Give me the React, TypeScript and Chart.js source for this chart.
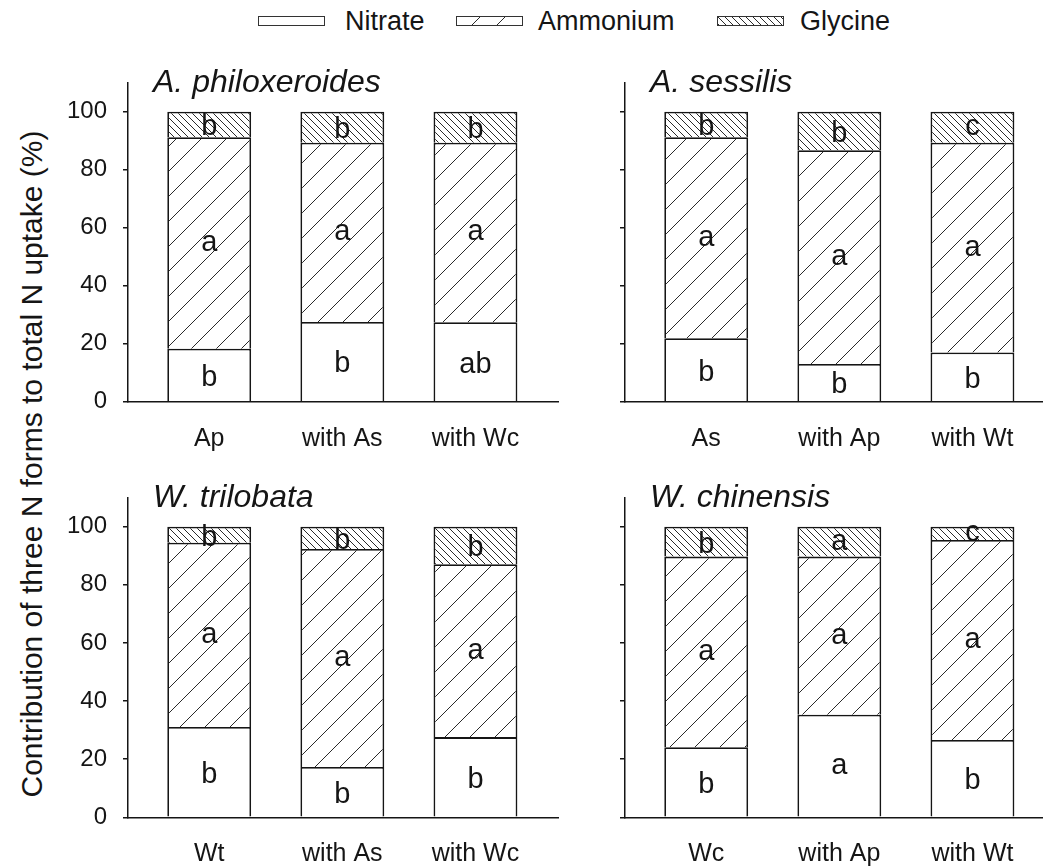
import React, { useEffect, useRef } from 'react';
import { Chart, registerables } from 'chart.js';

Chart.register(...registerables);

const FONT = '"Liberation Sans", Arial, Helvetica, sans-serif';
Chart.defaults.font.family = FONT;

// ---------- data ----------
const seriesNames = ['Nitrate', 'Ammonium', 'Glycine'];
const yTickValues = [0, 20, 40, 60, 80, 100];
const yAxisMax = 110;

const apTitle = 'A. philoxeroides';
const apCategories = ['Ap', 'with As', 'with Wc'];
const apNitrate = [18.3, 27.5, 27.4];
const apAmmonium = [72.9, 61.8, 61.9];
const apGlycine = [8.8, 10.7, 10.7];
const apNitrateLetters = ['b', 'b', 'ab'];
const apAmmoniumLetters = ['a', 'a', 'a'];
const apGlycineLetters = ['b', 'b', 'b'];

const asTitle = 'A. sessilis';
const asCategories = ['As', 'with Ap', 'with Wt'];
const asNitrate = [21.9, 13.0, 17.0];
const asAmmonium = [69.3, 73.7, 72.3];
const asGlycine = [8.8, 13.3, 10.7];
const asNitrateLetters = ['b', 'b', 'b'];
const asAmmoniumLetters = ['a', 'a', 'a'];
const asGlycineLetters = ['b', 'b', 'c'];

const wtTitle = 'W. trilobata';
const wtCategories = ['Wt', 'with As', 'with Wc'];
const wtNitrate = [31.1, 17.3, 27.6];
const wtAmmonium = [63.4, 75.0, 59.5];
const wtGlycine = [5.5, 7.7, 12.9];
const wtNitrateLetters = ['b', 'b', 'b'];
const wtAmmoniumLetters = ['a', 'a', 'a'];
const wtGlycineLetters = ['b', 'b', 'b'];

const wcTitle = 'W. chinensis';
const wcCategories = ['Wc', 'with Ap', 'with Wt'];
const wcNitrate = [24.1, 35.3, 26.6];
const wcAmmonium = [65.6, 54.4, 68.8];
const wcGlycine = [10.3, 10.3, 4.6];
const wcNitrateLetters = ['b', 'a', 'b'];
const wcAmmoniumLetters = ['a', 'a', 'a'];
const wcGlycineLetters = ['b', 'a', 'c'];

const yAxisTitle = 'Contribution of three N forms to total N uptake (%)';

// ---------- styling ----------
const INK = '#151515';
const HATCH = '#2a2a2a';

function makeTile(size: number, dir: 'fwd' | 'back', bg: string) {
  const c = document.createElement('canvas');
  c.width = size;
  c.height = size;
  const g = c.getContext('2d') as CanvasRenderingContext2D;
  g.fillStyle = bg;
  g.fillRect(0, 0, size, size);
  g.strokeStyle = HATCH;
  g.lineWidth = 1;
  g.beginPath();
  if (dir === 'fwd') {
    g.moveTo(-1, size + 1);
    g.lineTo(size + 1, -1);
    g.moveTo(-1, 1);
    g.lineTo(1, -1);
    g.moveTo(size - 1, size + 1);
    g.lineTo(size + 1, size - 1);
  } else {
    g.moveTo(-1, -1);
    g.lineTo(size + 1, size + 1);
    g.moveTo(size - 1, -1);
    g.lineTo(size + 1, 1);
    g.moveTo(-1, size - 1);
    g.lineTo(1, size + 1);
  }
  g.stroke();
  return c;
}

function fillFor(ctx: CanvasRenderingContext2D, idx: number): any {
  if (idx === 0) return '#ffffff';
  if (idx === 1) return ctx.createPattern(makeTile(25, 'fwd', '#ffffff'), 'repeat');
  return ctx.createPattern(makeTile(7, 'back', '#ffffff'), 'repeat');
}

const lettersPlugin = {
  id: 'segLetters',
  afterDatasetsDraw(chart: any) {
    const { ctx } = chart;
    ctx.save();
    ctx.font = `29px ${FONT}`;
    ctx.fillStyle = INK;
    ctx.textAlign = 'center';
    ctx.textBaseline = 'alphabetic';
    chart.data.datasets.forEach((ds: any, di: number) => {
      const meta = chart.getDatasetMeta(di);
      meta.data.forEach((el: any, i: number) => {
        const t = ds.letters[i];
        if (!t) return;
        const m = ctx.measureText(t);
        const cy = (el.y + el.base) / 2;
        const y = cy + (m.actualBoundingBoxAscent - m.actualBoundingBoxDescent) / 2;
        ctx.fillText(t, el.x, y);
      });
    });
    ctx.restore();
  },
};

const titlePlugin = {
  id: 'panelTitle',
  afterDraw(chart: any, _args: any, opts: any) {
    const { ctx, chartArea } = chart;
    ctx.save();
    ctx.font = `italic 32px ${FONT}`;
    ctx.fillStyle = INK;
    ctx.textAlign = 'left';
    ctx.textBaseline = 'alphabetic';
    ctx.fillText(opts.text, chartArea.left + opts.dx, chartArea.top + opts.dy);
    ctx.restore();
  },
};

type PanelProps = {
  left: number;
  top: number;
  width: number;
  height: number;
  yAxisWidth: number;
  padTop: number;
  xAxisHeight: number;
  padRight: number;
  xMin: number;
  xMax: number;
  showYLabels: boolean;
  title: string;
  categories: string[];
  values: number[][];
  letters: string[][];
};

function Panel(p: PanelProps) {
  const ref = useRef<HTMLCanvasElement | null>(null);
  useEffect(() => {
    const canvas = ref.current as HTMLCanvasElement;
    const ctx = canvas.getContext('2d') as CanvasRenderingContext2D;
    const datasets = p.values.map((vals, si) => ({
      label: seriesNames[si],
      data: vals.map((v, i) => ({ x: i, y: v })),
      backgroundColor: fillFor(ctx, si),
      borderColor: INK,
      borderWidth: 1.8,
      borderSkipped: 'start',
      barPercentage: 0.63,
      categoryPercentage: 1,
      letters: p.letters[si],
    }));
    const chart = new Chart(ctx, {
      type: 'bar',
      data: { datasets } as any,
      options: {
        animation: false,
        responsive: false,
        devicePixelRatio: 1,
        layout: { padding: { top: p.padTop, right: p.padRight, left: 0, bottom: 0 } },
        plugins: {
          legend: { display: false },
          tooltip: { enabled: false },
          panelTitle: { text: p.title, dx: 25, dy: 9 },
        } as any,
        scales: {
          x: {
            type: 'linear',
            stacked: true,
            offset: false,
            min: p.xMin,
            max: p.xMax,
            afterBuildTicks: (s: any) => {
              s.ticks = p.categories.map((_, i) => ({ value: i }));
            },
            afterFit: (s: any) => {
              s.height = p.xAxisHeight;
            },
            grid: { display: false, drawTicks: false, offset: false },
            border: { display: true, color: INK, width: 1.5 },
            ticks: {
              callback: (v: any) => p.categories[v] ?? '',
              font: { size: 25 },
              color: INK,
              padding: 22,
              maxRotation: 0,
              autoSkip: false,
            },
          },
          y: {
            stacked: true,
            min: 0,
            max: yAxisMax,
            afterBuildTicks: (s: any) => {
              s.ticks = yTickValues.map((v) => ({ value: v }));
            },
            afterFit: (s: any) => {
              s.width = p.yAxisWidth;
            },
            grid: {
              display: true,
              drawOnChartArea: false,
              drawTicks: true,
              tickLength: 5,
              color: INK,
              lineWidth: 1.5,
            },
            border: { display: true, color: INK, width: 1.5 },
            ticks: {
              display: p.showYLabels,
              font: { size: 24 },
              color: INK,
              padding: 16,
            },
          },
        },
      } as any,
      plugins: [lettersPlugin, titlePlugin],
    });
    return () => chart.destroy();
  }, []);
  return (
    <canvas
      ref={ref}
      width={p.width}
      height={p.height}
      style={{ position: 'absolute', left: p.left, top: p.top, width: p.width, height: p.height }}
    />
  );
}

function Swatch({ kind, left }: { kind: number; left: number }) {
  const ref = useRef<HTMLCanvasElement | null>(null);
  useEffect(() => {
    const c = ref.current as HTMLCanvasElement;
    const g = c.getContext('2d') as CanvasRenderingContext2D;
    g.clearRect(0, 0, c.width, c.height);
    g.fillStyle = fillFor(g, kind);
    g.fillRect(0, 0, c.width, c.height);
    g.strokeStyle = '#333';
    g.lineWidth = 1;
    g.strokeRect(0.5, 0.5, c.width - 1, c.height - 1);
  }, []);
  return (
    <canvas
      ref={ref}
      width={67}
      height={10}
      style={{ position: 'absolute', left, top: 16, width: 67, height: 10 }}
    />
  );
}

const legendText: React.CSSProperties = {
  position: 'absolute',
  top: 21,
  transform: 'translateY(-50%)',
  fontSize: 27,
  lineHeight: '30px',
  color: INK,
  whiteSpace: 'nowrap',
};

export default function App() {
  return (
    <div
      style={{
        position: 'absolute',
        left: 0,
        top: 0,
        width: 1043,
        height: 866,
        background: '#fff',
        fontFamily: FONT,
        overflow: 'hidden',
      }}
    >
      <Swatch kind={0} left={258} />
      <div style={{ ...legendText, left: 345 }}>{seriesNames[0]}</div>
      <Swatch kind={1} left={456} />
      <div style={{ ...legendText, left: 538 }}>{seriesNames[1]}</div>
      <Swatch kind={2} left={717} />
      <div style={{ ...legendText, left: 800 }}>{seriesNames[2]}</div>

      <div
        style={{
          position: 'absolute',
          left: 32,
          top: 464,
          transform: 'translate(-50%, -50%) rotate(-90deg)',
          fontSize: 30,
          lineHeight: '34px',
          color: INK,
          whiteSpace: 'nowrap',
        }}
      >
        {yAxisTitle}
      </div>

      <Panel
        left={0}
        top={40}
        width={560}
        height={420}
        yAxisWidth={128}
        padTop={42.7}
        xAxisHeight={58.3}
        padRight={2}
        xMin={-0.61}
        xMax={2.62}
        showYLabels={true}
        title={apTitle}
        categories={apCategories}
        values={[apNitrate, apAmmonium, apGlycine]}
        letters={[apNitrateLetters, apAmmoniumLetters, apGlycineLetters]}
      />
      <Panel
        left={560}
        top={40}
        width={483}
        height={420}
        yAxisWidth={65}
        padTop={42.7}
        xAxisHeight={58.3}
        padRight={0}
        xMin={-0.61}
        xMax={2.53}
        showYLabels={false}
        title={asTitle}
        categories={asCategories}
        values={[asNitrate, asAmmonium, asGlycine]}
        letters={[asNitrateLetters, asAmmoniumLetters, asGlycineLetters]}
      />
      <Panel
        left={0}
        top={457}
        width={560}
        height={409}
        yAxisWidth={128}
        padTop={40.6}
        xAxisHeight={48.7}
        padRight={2}
        xMin={-0.61}
        xMax={2.62}
        showYLabels={true}
        title={wtTitle}
        categories={wtCategories}
        values={[wtNitrate, wtAmmonium, wtGlycine]}
        letters={[wtNitrateLetters, wtAmmoniumLetters, wtGlycineLetters]}
      />
      <Panel
        left={560}
        top={457}
        width={483}
        height={409}
        yAxisWidth={65}
        padTop={40.6}
        xAxisHeight={48.7}
        padRight={0}
        xMin={-0.61}
        xMax={2.53}
        showYLabels={false}
        title={wcTitle}
        categories={wcCategories}
        values={[wcNitrate, wcAmmonium, wcGlycine]}
        letters={[wcNitrateLetters, wcAmmoniumLetters, wcGlycineLetters]}
      />
    </div>
  );
}
